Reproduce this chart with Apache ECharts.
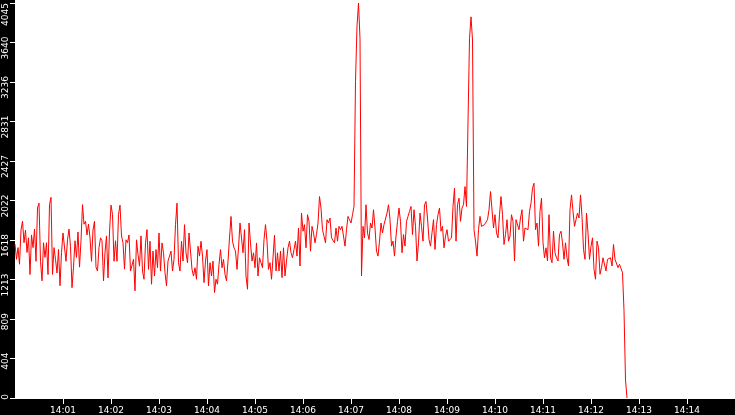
<!DOCTYPE html>
<html>
  <head>
    <meta charset="UTF-8" />
    <script src="https://cdn.jsdelivr.net/npm/echarts@6/dist/echarts.min.js"></script>
    <title>rate</title>
    <style>
      html, body { margin: 0; padding: 0; background: #fff; }
      #main { width: 735px; height: 415px; }
    </style>
  </head>
  <body>
    <div id="main"></div>
    <script>
      // one sample every 1.875 s starting 14:00:00
      const START = Date.UTC(2024, 0, 1, 14, 0, 0);
      const STEP = 1875;
      const Y_MAX = 4045;

      // 14:00:00 - 14:02:40
      const part1 = [
        1575,1420,1540,1370,1720,1810,1590,1720,1490,1640,
        1265,1670,1540,1730,1400,1945,1995,1400,1200,1590,
        1440,1590,1265,1980,2055,1265,1540,1420,1280,1520,
        1150,1490,1690,1690,1400,1620,1730,1550,1130,1340,
        1610,1440,1700,1340,1610,1980,1780,1810,1670,1780,
        1640,1400,1720,1810,1340,1300,1540,1640,1610,1200,
        1490,1660,1230,1700,1975,1880,1400,1610,1400,1880,
        1975,1660,1590,1320,1620,1590,1670,1300,1300,1420,
        1098,1620,1470,1350,1660
      ];
      // 14:02:40 - 14:05:19
      const part2 = [
        1300,1216,1588,1724,1317,1605,1165,1504,1249,1520,
        1334,1690,1300,1588,1487,1283,1148,1402,1419,1504,
        1300,1419,1775,1995,1385,1300,1605,1402,1775,1487,
        1385,1690,1707,1317,1249,1334,1216,1554,1453,1605,
        1453,1182,1402,1520,1148,1385,1249,1402,1080,1216,
        1165,1368,1520,1334,1419,1266,1199,1402,1639,1859,
        1605,1537,1504,1317,1537,1792,1639,1487,1724,1249,
        1114,1792,1588,1402,1487,1334,1588,1249,1436,1385,
        1334,1622,1775,1605,1317
      ];
      // 14:05:19 - 14:08:01 (first spike)
      const part3 = [
        1386,1216,1436,1667,1301,1487,1301,1504,1233,1538,
        1250,1403,1538,1606,1487,1436,1521,1606,1453,1741,
        1352,1894,1708,1775,1538,1877,1809,1504,1758,1691,
        1589,1674,1792,2063,1945,1724,1657,1589,1826,1792,
        1843,1640,1657,1589,1741,1606,1758,1724,1758,1758,
        1555,1724,1860,1826,1792,1877,1962,
        3242,3811,4045,3680,
        1250,1758,1640,1979,1691,1623,1792,1741,1928,1741,
        1504,1453,1606,1792,1691,1775,1792,1894,1979,1826,
        1555,1606,1453,1657,1809
      ];
      // 14:08:01 - 14:10:41 (second spike)
      const part4 = [
        1945,1809,1487,1674,1555,1809,1860,1911,1962,1674,
        1928,1758,1403,1589,1894,1758,1606,1979,2012,1843,
        1623,1555,1691,1826,1521,1775,1877,1945,1708,1758,
        1538,1657,1724,1606,1589,1640,1962,2148,1606,1979,
        2046,1809,1945,1979,2165,1962,1962,
        3680,3903,3666,
        1724,1606,1453,1724,1860,1758,1741,1775,1792,1826,
        1928,2114,2131,1741,1877,1691,1640,1877,2063,1877,
        1572,1674,1826,1606,1657,1877,1809,1403,1826,1809,
        1724,1843,1928,1606,1741
      ];
      // 14:10:41 - 14:12:45, then the drop to zero
      const part5 = [
        1741,1724,1911,1995,2148,2199,1724,1792,1555,1911,
        2046,1589,1436,1538,1403,1877,1436,1386,1708,1487,
        1436,1403,1674,1708,1589,1420,1589,1436,1352,1928,
        2080,1911,1758,1826,1894,1843,2080,1860,1521,1420,
        1894,1691,1420,1555,1640,1318,1216,1606,1538,1267,
        1335,1436,1453,1301,1420,1403,1436,1352,1572,1420,
        1403,1335,1369,1386,1284,
        894,183,0
      ];

      const values = part1.concat(part2, part3, part4, part5);
      const data = values.map((v, i) => [START + i * STEP, v]);

      function hhmm(v) {
        const d = new Date(v);
        const h = String(d.getUTCHours()).padStart(2, '0');
        const m = String(d.getUTCMinutes()).padStart(2, '0');
        return h + ':' + m;
      }

      // y labels sit a little above their tick, the top one is kept inside
      function yLabel(v) {
        const s = String(Math.floor(v));
        if (v >= Y_MAX) return '{top|' + s + '}';
        if (v <= 0) return '{zero|' + s + '}';
        return '{mid|' + s + '}';
      }

      const myChart = echarts.init(document.getElementById('main'));
      const font = 'DejaVu Sans';
      const lbl = { color: '#fff', fontSize: 9, fontFamily: font };
      myChart.setOption({
        animation: false,
        backgroundColor: '#fff',
        graphic: [
          { type: 'rect', z: -10, silent: true, shape: { x: 0, y: 0, width: 15, height: 415 }, style: { fill: '#000' } },
          { type: 'rect', z: -10, silent: true, shape: { x: 0, y: 398, width: 735, height: 17 }, style: { fill: '#000' } }
        ],
        grid: { left: 15, right: 0, top: 0, bottom: 17 },
        xAxis: {
          type: 'value',
          min: START,
          max: START + 15 * 60000,
          interval: 60000,
          splitLine: { show: false },
          axisLine: { show: true, lineStyle: { color: '#fff', width: 1 } },
          axisTick: { show: true, length: 6, lineStyle: { color: '#fff' } },
          axisLabel: {
            color: '#fff', fontSize: 9, fontFamily: font, margin: 8,
            showMinLabel: false, showMaxLabel: false,
            formatter: hhmm
          }
        },
        yAxis: {
          type: 'value',
          min: 0,
          max: Y_MAX,
          interval: Y_MAX / 10,
          splitLine: { show: false },
          axisLine: { show: false },
          axisTick: { show: true, length: 5, lineStyle: { color: '#fff' } },
          axisLabel: {
            color: '#fff', fontSize: 9, fontFamily: font, margin: 5,
            rotate: 90, align: 'right',
            formatter: yLabel,
            rich: {
              mid: Object.assign({ padding: [0, -6, 0, 0] }, lbl),
              top: Object.assign({ padding: [0, 0, 0, 0] }, lbl),
              zero: Object.assign({ padding: [0, -4, 0, 0] }, lbl)
            }
          }
        },
        series: [
          {
            type: 'line',
            data: data,
            showSymbol: false,
            sampling: null,
            lineStyle: { color: '#ff0000', width: 1 },
            itemStyle: { color: '#ff0000' }
          }
        ]
      });
    </script>
  </body>
</html>
